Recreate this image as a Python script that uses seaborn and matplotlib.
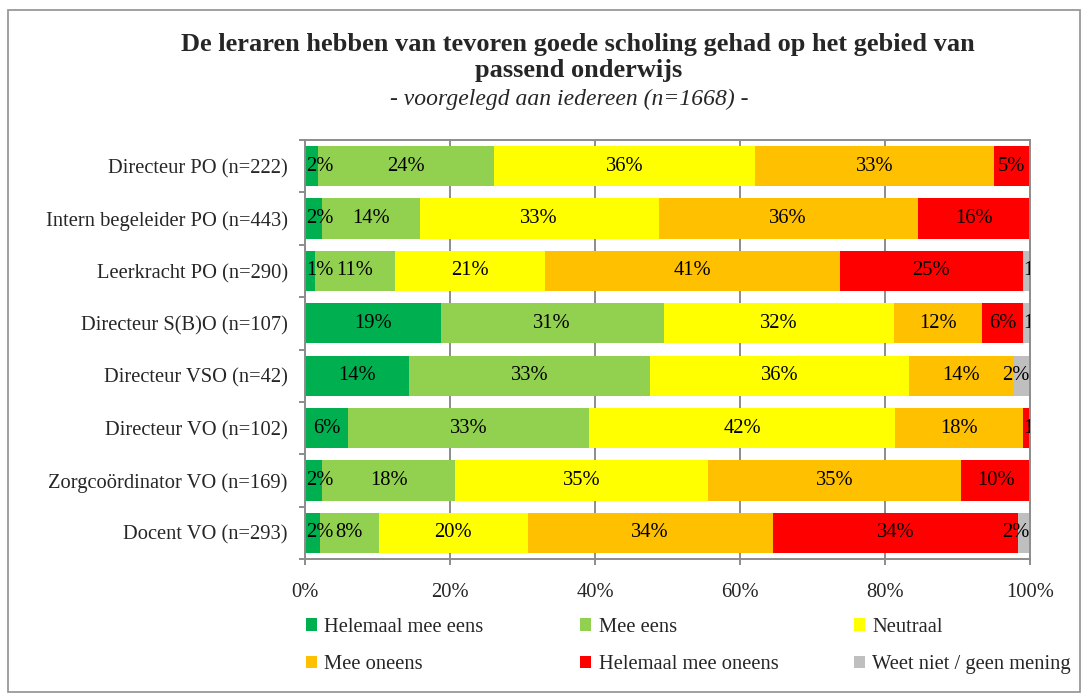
import numpy as np
import pandas as pd
import seaborn as sns
import matplotlib.pyplot as plt
from matplotlib.patches import Patch, Rectangle

groups = ["Directeur PO (n=222)", "Intern begeleider PO (n=443)", "Leerkracht PO (n=290)",
          "Directeur S(B)O (n=107)", "Directeur VSO (n=42)", "Directeur VO (n=102)",
          "Zorgcoördinator VO (n=169)", "Docent VO (n=293)"]
answers = ["Helemaal mee eens", "Mee eens", "Neutraal", "Mee oneens",
           "Helemaal mee oneens", "Weet niet / geen mening"]

# percentages per group, in the order of answers
helemaal_eens = [1.8, 2.3, 1.4, 18.7, 14.3, 5.9, 2.4, 2.0]
mee_eens = [24.3, 13.5, 11.0, 30.8, 33.3, 33.3, 18.3, 8.2]
neutraal = [36.0, 33.0, 20.7, 31.8, 35.7, 42.2, 34.9, 20.5]
mee_oneens = [32.9, 35.7, 40.7, 12.1, 14.3, 17.6, 34.9, 33.8]
helemaal_oneens = [5.0, 15.5, 25.2, 5.6, 0.0, 1.0, 9.5, 33.9]
weet_niet = [0.0, 0.0, 1.0, 1.0, 2.4, 0.0, 0.0, 1.6]

colors = ["#00B050", "#92D050", "#FFFF00", "#FFC000", "#FF0000", "#BFBFBF"]
grey = "#8c8c8c"
fs = 14.8

vals = np.array([helemaal_eens, mee_eens, neutraal, mee_oneens, helemaal_oneens, weet_niet])
cum = vals.cumsum(axis=0)

sns.set_style("white")
plt.rcParams["font.family"] = ["Liberation Serif", "DejaVu Serif"]

fig = plt.figure(figsize=(10.87, 6.99), dpi=100)
ax = fig.add_axes([0.2806, 0.2003, 0.667, 0.5994])

# stacked bars: draw the cumulative totals from largest to smallest
for i in range(len(answers) - 1, -1, -1):
    df = pd.DataFrame({"groep": groups, "cum": cum[i]})
    sns.barplot(data=df, x="cum", y="groep", color=colors[i], orient="h",
                width=0.77, linewidth=0, saturation=1, ax=ax, zorder=2)

# data labels, kept inside the plot area like excel does
half = 1.4
for i in range(len(answers)):
    for j in range(len(groups)):
        v = vals[i, j]
        if v <= 0:
            continue
        xc = cum[i, j] - v / 2
        ha = "center"
        if xc < half:
            xc, ha = 0.1, "left"
        elif xc + half > 100:
            if round(v) < 2:
                xc, ha = cum[i, j] - 0.9, "left"
            else:
                xc, ha = 99.9, "right"
        ax.text(xc, j, f"{v:.0f}%", ha=ha, va="center", fontsize=fs,
                color="black", clip_on=True, zorder=3)

ax.set_xlim(0, 100)
ax.set_ylim(len(groups) - 0.5, -0.5)
ax.set_xticks(np.arange(0, 101, 20))
ax.set_xticklabels([f"{t}%" for t in range(0, 101, 20)])
ax.xaxis.grid(True, color=grey, linewidth=1.4, zorder=0)
ax.set_axisbelow(True)
ax.set_xlabel("")
ax.set_ylabel("")
ax.tick_params(axis="x", labelsize=fs, pad=13, length=4.5, width=1.4, color=grey,
               direction="out", bottom=True)
ax.tick_params(axis="y", labelsize=fs, pad=12.5, length=0)
ax.set_yticks(np.arange(len(groups) + 1) - 0.5, minor=True)
ax.tick_params(axis="y", which="minor", length=4.5, width=1.4, color=grey,
               direction="out", left=True)
for s in ax.spines.values():
    s.set_color(grey)
    s.set_linewidth(1.4)

fig.text(0.532, 0.937, "De leraren hebben van tevoren goede scholing gehad op het gebied van",
         ha="center", va="center", fontsize=19, fontweight="bold")
fig.text(0.532, 0.899, "passend onderwijs", ha="center", va="center",
         fontsize=19, fontweight="bold")
fig.text(0.524, 0.858, "- voorgelegd aan iedereen (n=1668) -", ha="center", va="center",
         fontsize=17, style="italic")

# legend in three columns like the original
handles = [Patch(facecolor=c, edgecolor="none") for c in colors]
xs = [0.2815, 0.5336, 0.7856]
for k in range(3):
    fig.legend([handles[k], handles[k + 3]], [answers[k], answers[k + 3]],
               loc="upper left", bbox_to_anchor=(xs[k], 0.116), frameon=False,
               fontsize=fs, handlelength=0.55, handleheight=0.55, handletextpad=0.35,
               labelspacing=0.9, borderaxespad=0, borderpad=0)

fig.patches.append(Rectangle((8 / 1087, 1 - 692 / 699), 1072 / 1087, 682 / 699,
                             transform=fig.transFigure, fill=False,
                             edgecolor="#999999", linewidth=1.3))

fig.savefig("out.png", dpi=100)
